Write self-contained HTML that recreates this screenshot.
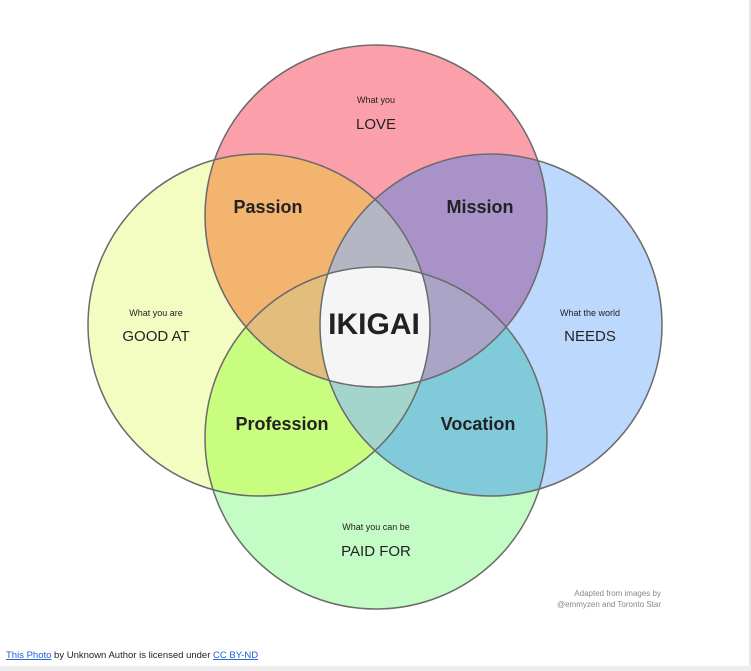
<!DOCTYPE html>
<html><head><meta charset="utf-8"><style>
html,body{margin:0;padding:0;background:#fff;width:751px;height:671px;overflow:hidden;font-family:"Liberation Sans",sans-serif;}
</style></head><body>
<svg width="751" height="671" viewBox="0 0 751 671" xmlns="http://www.w3.org/2000/svg" style="position:absolute;left:0;top:0">
<defs>
<clipPath id="cT"><circle cx="376" cy="216" r="171"/></clipPath>
<clipPath id="cL"><circle cx="259" cy="325" r="171"/></clipPath>
<clipPath id="cR"><circle cx="491" cy="325" r="171"/></clipPath>
<clipPath id="cB"><circle cx="376" cy="438" r="171"/></clipPath>
</defs>
<rect x="749" y="0" width="2" height="671" fill="#e6e6e6"/>
<rect x="0" y="666" width="751" height="5" fill="#eeeeee"/>
<circle cx="376" cy="216" r="171" fill="#fba0ab"/>
<circle cx="259" cy="325" r="171" fill="#f3fdc2"/>
<circle cx="491" cy="325" r="171" fill="#bcd8fd"/>
<circle cx="376" cy="438" r="171" fill="#c4fcc6"/>
<g clip-path="url(#cT)"><circle cx="259" cy="325" r="171" fill="#f2b46f"/><circle cx="491" cy="325" r="171" fill="#a892c8"/></g>
<g clip-path="url(#cB)"><circle cx="259" cy="325" r="171" fill="#c8fd7f"/><circle cx="491" cy="325" r="171" fill="#80cad9"/></g>
<g clip-path="url(#cT)"><g clip-path="url(#cL)"><circle cx="491" cy="325" r="171" fill="#b4b6c3"/><circle cx="376" cy="438" r="171" fill="#e3bd7c"/></g></g>
<g clip-path="url(#cT)"><g clip-path="url(#cR)"><circle cx="376" cy="438" r="171" fill="#aaa4c6"/></g></g>
<g clip-path="url(#cB)"><g clip-path="url(#cL)"><circle cx="491" cy="325" r="171" fill="#a3d5cd"/></g></g>
<g clip-path="url(#cT)"><g clip-path="url(#cL)"><g clip-path="url(#cR)"><circle cx="376" cy="438" r="171" fill="#f5f5f5"/></g></g></g>
<g fill="none" stroke="#6b6b6b" stroke-width="1.5">
<circle cx="376" cy="216" r="171"/><circle cx="259" cy="325" r="171"/><circle cx="491" cy="325" r="171"/><circle cx="376" cy="438" r="171"/>
</g>
<g font-family="Liberation Sans, sans-serif" fill="#222" text-anchor="middle">
<text x="376" y="103" font-size="9">What you</text>
<text x="376" y="129" font-size="15">LOVE</text>
<text x="156" y="316" font-size="9">What you are</text>
<text x="156" y="341" font-size="15">GOOD AT</text>
<text x="590" y="316" font-size="9">What the world</text>
<text x="590" y="341" font-size="15">NEEDS</text>
<text x="376" y="530" font-size="9">What you can be</text>
<text x="376" y="556" font-size="15">PAID FOR</text>
<text x="268" y="213" font-size="18" font-weight="bold">Passion</text>
<text x="480" y="213" font-size="18" font-weight="bold">Mission</text>
<text x="282" y="430" font-size="18" font-weight="bold">Profession</text>
<text x="478" y="430" font-size="18" font-weight="bold">Vocation</text>
<text x="374" y="334" font-size="30" font-weight="bold">IKIGAI</text>
</g>
<g font-family="Liberation Sans, sans-serif" fill="#888" font-size="8" text-anchor="end">
<text x="661" y="596">Adapted from images by</text>
<text x="661" y="607">@emmyzen and Toronto Star</text>
</g>
<text x="6" y="658" font-family="Liberation Sans, sans-serif" font-size="9.5" fill="#222"><tspan fill="#1a5fd6" text-decoration="underline">This Photo</tspan> by Unknown Author is licensed under <tspan fill="#1a5fd6" text-decoration="underline">CC BY-ND</tspan></text>
</svg>
</body></html>
